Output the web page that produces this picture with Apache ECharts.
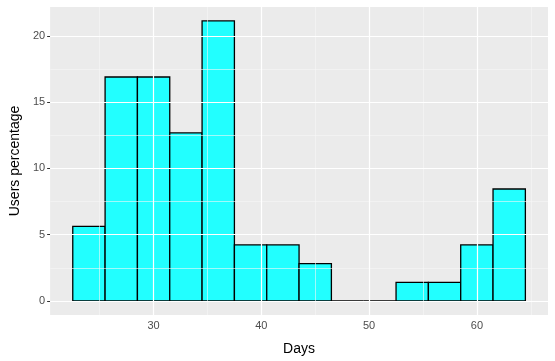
<!DOCTYPE html>
<html>
<head>
<meta charset="utf-8">
<script src="https://cdn.jsdelivr.net/npm/echarts@6/dist/echarts.min.js"></script>
<style>
  html, body { margin: 0; padding: 0; background: #fff; }
  #chart { width: 555px; height: 361px; }
</style>
</head>
<body>
<div id="chart"></div>
<script>
// histogram bins (days), width 3
var binStart = [22.5, 25.5, 28.5, 31.5, 34.5, 37.5, 40.5, 43.5, 46.5, 49.5, 52.5, 55.5, 58.5, 61.5]
var binEnd = [25.5, 28.5, 31.5, 34.5, 37.5, 40.5, 43.5, 46.5, 49.5, 52.5, 55.5, 58.5, 61.5, 64.5]
var usersPct = [5.63, 16.90, 16.90, 12.68, 21.13, 4.23, 4.23, 2.82, 0, 0, 1.41, 1.41, 4.23, 8.45]

var xTicks = [30, 40, 50, 60]
var xMinor = [25, 35, 45, 55, 65]
var yTicks = [0, 5, 10, 15, 20]
var yMinor = [2.5, 7.5, 12.5, 17.5]

var font = 'Liberation Sans, Arial, Helvetica, sans-serif'

var barData = binStart.map(function (s, i) {
    return [s, binEnd[i], usersPct[i]]
})

var gridLines = []
xMinor.forEach(function (v) { gridLines.push({xAxis: v, lineStyle: {width: 0.6, color: '#F7F7F7'}}) })
yMinor.forEach(function (v) { gridLines.push({yAxis: v, lineStyle: {width: 0.6, color: '#F7F7F7'}}) })
xTicks.forEach(function (v) { gridLines.push({xAxis: v, lineStyle: {width: 1.2, color: '#FFFFFF'}}) })
yTicks.forEach(function (v) { gridLines.push({yAxis: v, lineStyle: {width: 1.2, color: '#FFFFFF'}}) })

var chart = echarts.init(document.getElementById('chart'))

var option = {
    animation: false,
    grid: {
        left: 48,
        right: 7,
        top: 7,
        bottom: 44,
        show: true,
        backgroundColor: '#EBEBEB',
        borderWidth: 0
    },
    xAxis: {
        type: 'value',
        min: 20.4,
        max: 66.6,
        name: 'Days',
        nameLocation: 'middle',
        nameGap: 27,
        nameTextStyle: {color: '#000', fontSize: 14, fontFamily: font},
        axisLine: {show: false},
        axisTick: {show: true, length: 3, customValues: xTicks, lineStyle: {color: '#333333'}},
        axisLabel: {customValues: xTicks, color: '#4D4D4D', fontSize: 11, fontFamily: font, margin: 5},
        splitLine: {show: false}
    },
    yAxis: {
        type: 'value',
        min: -1.056,
        max: 22.18,
        name: 'Users percentage',
        nameLocation: 'middle',
        nameGap: 28,
        nameRotate: 90,
        nameTextStyle: {color: '#000', fontSize: 14, fontFamily: font},
        axisLine: {show: false},
        axisTick: {show: true, length: 3, customValues: yTicks, lineStyle: {color: '#333333'}},
        axisLabel: {customValues: yTicks, color: '#4D4D4D', fontSize: 11, fontFamily: font, margin: 5},
        splitLine: {show: false}
    },
    series: [
        {
            type: 'line',
            data: [],
            z: 0,
            markLine: {
                silent: true,
                symbol: 'none',
                label: {show: false},
                lineStyle: {type: 'solid'},
                data: gridLines
            }
        },
        {
            type: 'custom',
            z: 2,
            data: barData,
            encode: {x: [0, 1], y: 2},
            renderItem: function (params, api) {
                var p0 = api.coord([api.value(0), 0])
                var p1 = api.coord([api.value(1), api.value(2)])
                return {
                    type: 'rect',
                    shape: {x: p0[0], y: p1[1], width: p1[0] - p0[0], height: p0[1] - p1[1]},
                    style: {fill: '#22FFFF', stroke: '#000000', lineWidth: 1.3}
                }
            }
        }
    ]
}

chart.setOption(option, true)
</script>
</body>
</html>
